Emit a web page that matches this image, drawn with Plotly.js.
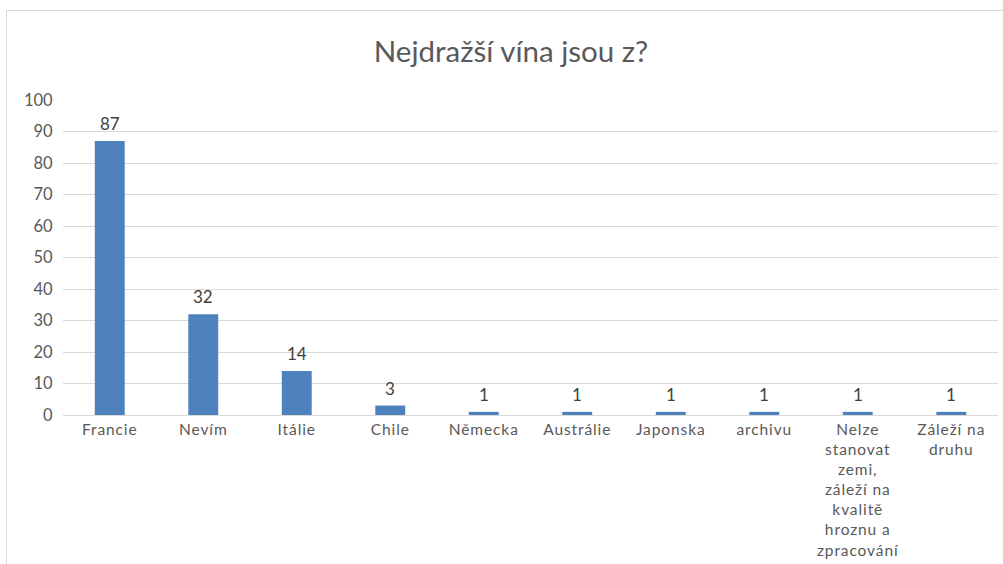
<!DOCTYPE html>
<html>
<head>
<meta charset="utf-8">
<script src="https://cdn.plot.ly/plotly-3.0.1.min.js"></script>
<style>
  html, body { margin: 0; padding: 0; background: #ffffff; }
  #clip { position: absolute; left: 0; top: 0; width: 1003px; height: 564px; overflow: hidden; }
  #chart { width: 1003px; height: 564px; position: absolute; left: 0; top: 0; }
  #frame { position: absolute; left: 6px; top: 10px; width: 1100px; height: 700px;
           border-left: 1px solid #d9d9d9; border-top: 1px solid #d9d9d9; pointer-events: none; }
  #chart .xtick text { letter-spacing: 0.9px; }
</style>
</head>
<body>
<div id="clip">
  <div id="chart"></div>
  <div id="frame"></div>
</div>
<script>
const categories = [
  "Francie", "Nevím", "Itálie", "Chile", "Německa", "Austrálie", "Japonska", "archivu",
  "Nelze<br>stanovat<br>zemi,<br>záleží na<br>kvalitě<br>hroznu a<br>zpracování",
  "Záleží na<br>druhu"
];
const values = [87, 32, 14, 3, 1, 1, 1, 1, 1, 1];
const yTicks = [0, 10, 20, 30, 40, 50, 60, 70, 80, 90, 100];
const chartTitle = "Nejdražší vína jsou z?";

const fontFamily = "Lato, 'Open Sans', sans-serif";

const trace = {
  type: "bar",
  x: categories,
  y: values,
  marker: { color: "#4F81BD" },
  width: 0.32,
  hoverinfo: "x+y"
};

const valueLabels = categories.map((c, i) => ({
  x: c,
  y: values[i],
  xref: "x",
  yref: "y",
  text: String(values[i]),
  showarrow: false,
  yanchor: "bottom",
  yshift: 5,
  font: { family: fontFamily, size: 17, color: "#404040" }
}));

const layout = {
  width: 1003,
  height: 564,
  margin: { l: 63, r: 5, t: 100, b: 148.5, pad: 0 },
  paper_bgcolor: "rgba(0,0,0,0)",
  plot_bgcolor: "rgba(0,0,0,0)",
  showlegend: false,
  font: { family: fontFamily, size: 16, color: "#595959" },
  title: {
    text: chartTitle,
    font: { family: fontFamily, size: 29.5, color: "#595959" },
    x: 0.5095, xref: "container", xanchor: "center",
    y: 1 - 52 / 564, yref: "container", yanchor: "middle"
  },
  annotations: valueLabels,
  xaxis: {
    type: "category",
    showgrid: false,
    showline: true,
    linecolor: "#d9d9d9",
    linewidth: 1,
    ticks: "",
    tickangle: 0,
    automargin: false,
    tickfont: { family: fontFamily, size: 15.5, color: "#595959" }
  },
  yaxis: {
    range: [0, 100],
    tickvals: yTicks,
    ticktext: yTicks.map(String),
    showgrid: true,
    gridcolor: "#d9d9d9",
    gridwidth: 1,
    zeroline: false,
    showline: false,
    ticks: "outside",
    ticklen: 6,
    tickcolor: "rgba(0,0,0,0)",
    automargin: false,
    tickfont: { family: fontFamily, size: 16.5, color: "#595959" }
  }
};

Plotly.newPlot("chart", [trace], layout, { displayModeBar: false, staticPlot: true });
</script>
</body>
</html>
